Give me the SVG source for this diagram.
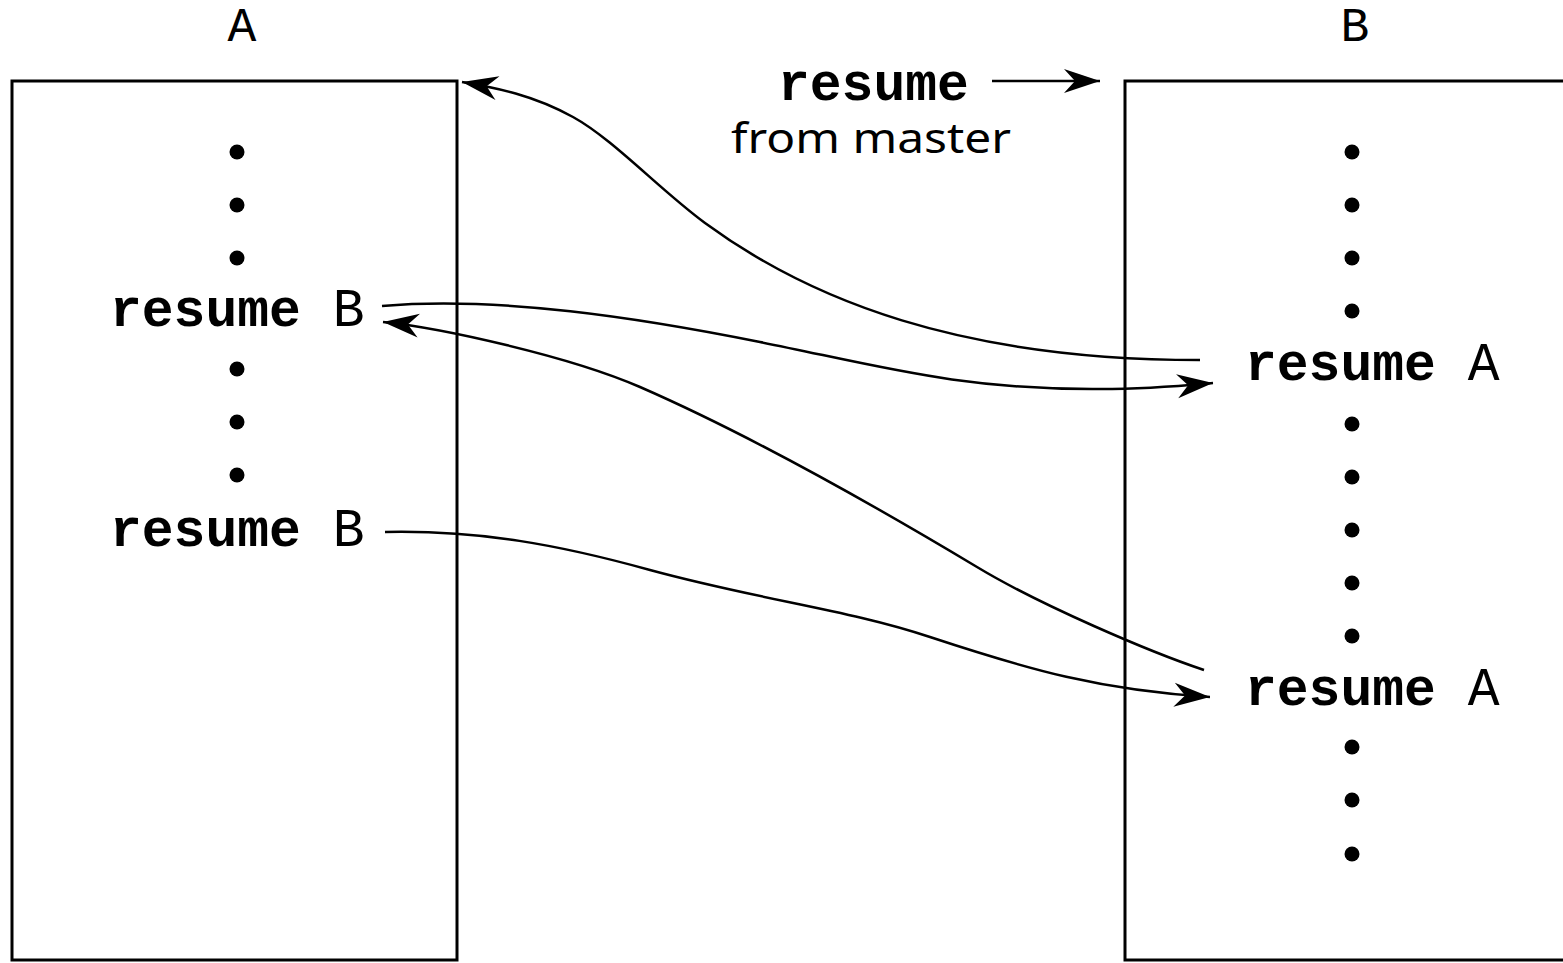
<svg xmlns="http://www.w3.org/2000/svg" width="1563" height="963" viewBox="0 0 1563 963">
<style>
.box{fill:none;stroke:#000;stroke-width:3}
.mono{font-family:"Liberation Mono","Courier New",monospace;font-size:53px;fill:#000}
.title{font-family:"Liberation Mono","Courier New",monospace;font-size:48px;fill:#000}
.b{font-weight:bold}
.sans{font-family:"Noto Sans","Open Sans",sans-serif;font-size:41px;fill:#000}
.dot{fill:#000}
.conn{fill:none;stroke:#000;stroke-width:2.5}
</style>
<defs>
<marker id="ah" markerUnits="userSpaceOnUse" markerWidth="40" markerHeight="30" viewBox="-38 -13 40 26" refX="0" refY="0" orient="auto">
<path d="M0,0 L-36,-12 L-25,0 L-36,12 Z" fill="#000"/>
</marker>
</defs>
<rect width="1563" height="963" fill="#fff"/>
<g id="nodeA">
<text class="title" x="242" y="41" text-anchor="middle">A</text>
<rect class="box" x="12" y="81" width="445" height="879"/>
<circle class="dot" cx="237" cy="152" r="7.5"/>
<circle class="dot" cx="237" cy="205" r="7.5"/>
<circle class="dot" cx="237" cy="258" r="7.5"/>
<text class="mono" x="110" y="326"><tspan class="b">resume</tspan> B</text>
<circle class="dot" cx="237" cy="369" r="7.5"/>
<circle class="dot" cx="237" cy="422" r="7.5"/>
<circle class="dot" cx="237" cy="475" r="7.5"/>
<text class="mono" x="110" y="546"><tspan class="b">resume</tspan> B</text>
</g>
<g id="nodeB">
<text class="title" x="1355" y="41" text-anchor="middle">B</text>
<rect class="box" x="1125" y="81" width="500" height="879"/>
<circle class="dot" cx="1352" cy="152" r="7.5"/>
<circle class="dot" cx="1352" cy="205" r="7.5"/>
<circle class="dot" cx="1352" cy="258" r="7.5"/>
<circle class="dot" cx="1352" cy="311" r="7.5"/>
<text class="mono" x="1245" y="380"><tspan class="b">resume</tspan> A</text>
<circle class="dot" cx="1352" cy="424" r="7.5"/>
<circle class="dot" cx="1352" cy="477" r="7.5"/>
<circle class="dot" cx="1352" cy="530" r="7.5"/>
<circle class="dot" cx="1352" cy="583" r="7.5"/>
<circle class="dot" cx="1352" cy="636" r="7.5"/>
<text class="mono" x="1245" y="705"><tspan class="b">resume</tspan> A</text>
<circle class="dot" cx="1352" cy="747" r="7.5"/>
<circle class="dot" cx="1352" cy="800" r="7.5"/>
<circle class="dot" cx="1352" cy="854" r="7.5"/>
</g>
<g id="master">
<text class="mono b" x="778" y="100">resume</text>
<text class="sans" x="731" y="153" textLength="280" lengthAdjust="spacingAndGlyphs">from master</text>
</g>
<g id="connectors">
<path class="conn" d="M992,81 L1100,81" marker-end="url(#ah)"/>
<path class="conn" d="M1200,360 C960,360 810,300 705,223 C660,190 613,139 573,117 C533,95 497,88 462,82" marker-end="url(#ah)"/>
<path class="conn" d="M382,306 C500,296 640,318 760,342 C880,366 960,390 1100,389 C1150,389 1180,386 1213,383" marker-end="url(#ah)"/>
<path class="conn" d="M1204,670 C1150,652 1040,605 977,567 C867,501 750,435 640,387 C570,356.5 442,328 383,322" marker-end="url(#ah)"/>
<path class="conn" d="M385,532 C480,530 560,545 650,570 C760,600 850,610 930,637 C1030,670 1100,690 1210,697" marker-end="url(#ah)"/>
</g>
</svg>
